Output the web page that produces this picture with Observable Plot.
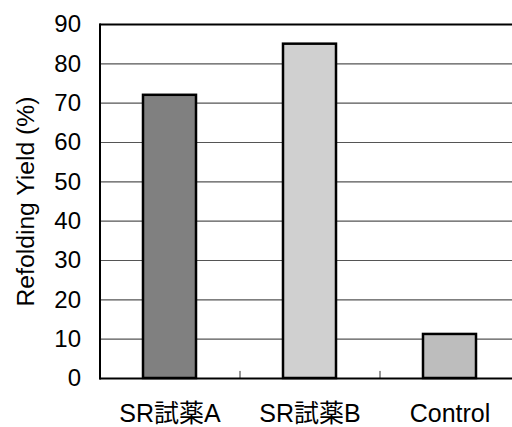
<!DOCTYPE html>
<html>
<head>
<meta charset="utf-8">
<script src="https://cdn.jsdelivr.net/npm/d3@7"></script>
<script src="https://cdn.jsdelivr.net/npm/@observablehq/plot@0.6"></script>
<style>
  body { margin: 0; background: white; }
  svg { overflow: hidden; }
</style>
</head>
<body>
<div id="chart"></div>
<script>
const categories = ["SR試薬A", "SR試薬B", "Control"];
const values = [72, 85, 11.2];
const colors = ["#808080", "#d0d0d0", "#bdbdbd"];
const yTicks = [0, 10, 20, 30, 40, 50, 60, 70, 80, 90];
const yLabel = "Refolding Yield (%)";

const data = categories.map((c, i) => ({category: c, value: values[i], color: colors[i]}));
const font = "'Liberation Sans', Arial, 'Noto Sans CJK JP', sans-serif";

const chart = Plot.plot({
  width: 512,
  height: 427,
  marginLeft: 99.5,
  marginRight: 0,
  marginTop: 24,
  marginBottom: 49,
  style: {fontFamily: font, background: "white", color: "black"},
  x: {domain: categories, range: [99.5, 519.5], paddingInner: 0.62, paddingOuter: 0.31, label: null},
  y: {domain: [0, 90], label: null},
  marks: [
    Plot.ruleY(yTicks.slice(1, -1), {stroke: "#555", strokeWidth: 1.2}),
    Plot.barY(data, {x: "category", y: "value", fill: "color", stroke: "black", strokeWidth: 2.5}),
    Plot.ruleX(categories.slice(1), {x: d => d, dx: -70, y1: 0, y2: 1.8, stroke: "#333", strokeWidth: 1}),
    Plot.ruleY([0, 90], {stroke: "black", strokeWidth: 2}),
    Plot.frame({anchor: "left", stroke: "black", strokeWidth: 2}),
    Plot.axisY({ticks: yTicks, tickSize: 0, tickPadding: 19, fontSize: 24, tickFormat: d => String(d), label: null}),
    Plot.axisY({ticks: [], label: yLabel, labelAnchor: "center", labelArrow: "none", labelOffset: 84, fontSize: 24.7, dy: 5}),
    Plot.axisX({tickSize: 0, tickPadding: 26, fontSize: 25, label: null})
  ]
});
document.getElementById("chart").appendChild(chart);
</script>
</body>
</html>
